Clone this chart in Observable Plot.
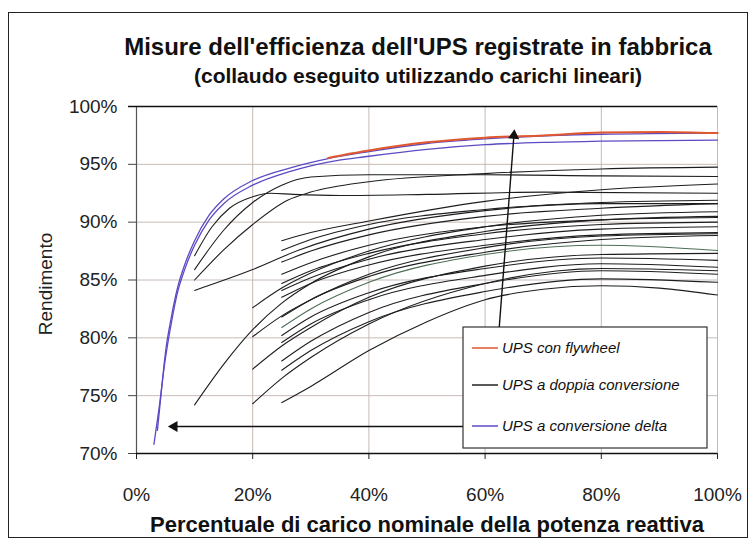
<!DOCTYPE html>
<html>
<head>
<meta charset="utf-8">
<script src="https://cdn.jsdelivr.net/npm/d3@7"></script>
<script src="https://cdn.jsdelivr.net/npm/@observablehq/plot@0.6"></script>
<style>
  body { margin: 0; background: #fff; font-family: "Liberation Sans", Arial, sans-serif; }
  #wrap { position: relative; width: 755px; height: 544px; overflow: hidden; background: #fff; }
  #frame { position: absolute; left: 8px; top: 12px; width: 740px; height: 526px; border: 1.5px solid #222; box-sizing: border-box; pointer-events: none; z-index: 5; }
  .t1 { position: absolute; left: 80px; width: 676px; top: 33px; text-align: center; font-size: 24px; font-weight: bold; line-height: 28px; color: #111; }
  .t2 { position: absolute; left: 80px; width: 676px; top: 64px; text-align: center; font-size: 21px; font-weight: bold; line-height: 24px; color: #111; }
  #chart { position: absolute; left: 0; top: 90px; }
</style>
</head>
<body>
<div id="wrap">
  <div id="frame"></div>
  <div class="t1">Misure dell'efficienza dell'UPS registrate in fabbrica</div>
  <div class="t2">(collaudo eseguito utilizzando carichi lineari)</div>
  <div id="chart"></div>
</div>
<script>
// ---- data (x = % carico, y = % rendimento) ----
const xTicks = [0, 20, 40, 60, 80, 100];
const yTicks = [70, 75, 80, 85, 90, 95, 100];

const flywheel = [[33,95.55],[36,95.85],[40,96.2],[50,96.9],[60,97.3],[70,97.5],[80,97.75],[90,97.8],[100,97.7]];

const deltaA = [[3.6,72.0],[4.2,75.0],[5,78.8],[6,81.8],[7,84.2],[8.5,86.6],[10,88.4],[12.5,90.6],[15,92.0],[20,93.6],[26.5,94.7],[33,95.5],[40,96.1],[50,96.8],[60,97.2],[80,97.6],[100,97.7]];
const deltaB = [[3.0,70.8],[3.8,73.6],[5,78.3],[6,81.3],[7,83.8],[8.5,86.2],[10,88.0],[12.5,90.2],[15,91.6],[20,93.2],[26.5,94.4],[33,95.2],[40,95.7],[50,96.3],[60,96.7],[70,96.9],[80,97.0],[100,97.1]];

// doppia conversione: curves starting at 10% load
const curves10 = [
  [[10,87.1],[13,89.6],[16,91.2],[20,92.2],[23,92.5],[27,92.4],[35,92.3],[50,92.4],[70,92.6],[100,92.5]],
  [[10,85.9],[15,89.3],[20,91.7],[25,93.2],[30,93.9],[40,94.1],[60,94.1],[80,94.0],[100,93.95]],
  [[10,85.0],[15,87.6],[20,89.8],[26,91.9],[30,92.6],[40,93.5],[60,94.2],[80,94.6],[100,94.76]],
  [[10,84.1],[20,85.9],[28,87.6],[40,89.4],[60,91.0],[80,91.6],[100,91.6]],
  [[10,74.2],[15,77.7],[20,80.7],[25,83.0],[30,84.7],[40,87.0],[60,89.2],[80,90.2],[100,90.5]]
];

// curves starting at 20% load
const xs20 = [20, 25, 30, 40, 60, 80, 100];
const curves20 = [
  [82.6, 84.3, 85.6, 87.5, 89.6, 90.6, 90.9],
  [80.1, 81.9, 83.3, 85.5, 87.8, 88.8, 89.0],
  [77.3, 79.3, 80.9, 83.5, 86.2, 87.2, 87.3],
  [74.3, 76.5, 78.3, 81.2, 84.7, 86.0, 85.8]
];

// curves starting at 25% load
const xs25 = [25, 30, 40, 60, 80, 100];
const curves25 = [
  [88.4, 89.1, 90.1, 91.8, 92.8, 93.3],
  [87.55, 88.5, 89.8, 91.1, 91.7, 91.9],
  [86.55, 87.5, 88.9, 90.5, 91.2, 91.6],
  [85.5, 86.5, 88.0, 89.6, 90.2, 90.4],
  [84.7, 85.8, 87.3, 89.0, 89.8, 90.0],
  [84.1, 85.2, 86.8, 88.5, 89.4, 89.6],
  [83.5, 84.7, 86.3, 88.0, 88.9, 89.1],
  [81.8, 83.3, 85.3, 87.4, 88.5, 88.85],
  [80.2, 81.8, 83.9, 86.0, 86.9, 86.7],
  [79.6, 81.2, 83.3, 85.4, 86.4, 86.1],
  [78.0, 79.7, 82.2, 84.7, 85.8, 85.5],
  [77.2, 78.9, 81.4, 84.0, 85.1, 84.8]
];
const curveVerde = [80.9, 82.5, 84.8, 87.2, 88.0, 87.55];
const lowest = [[25,74.4],[30,75.8],[40,78.9],[50,81.4],[60,83.3],[70,84.2],[80,84.5],[90,84.3],[100,83.7]];

const legendItems = [
  {label: "UPS con flywheel", color: "#e2582e"},
  {label: "UPS a doppia conversione", color: "#222"},
  {label: "UPS a conversione delta", color: "#5b4bc4"}
];
// annotation arrows (from legend swatch to curves), in data units
const annotations = [
  {x1: 57.8, y1: 72.34, x2: 6.5, y2: 72.34, rot: -90},
  {x1: 62.3, y1: 80.03, x2: 64.96, y2: 97.49, rot: 4.4}
];

// ---- build rows ----
const toRows = (pts, id) => pts.map(([x, y]) => ({x, y, id}));
let black = [];
curves10.forEach((c, i) => black.push(...toRows(c, "a" + i)));
curves20.forEach((c, i) => black.push(...toRows(xs20.map((x, j) => [x, c[j]]), "b" + i)));
curves25.forEach((c, i) => black.push(...toRows(xs25.map((x, j) => [x, c[j]]), "c" + i)));
black.push(...toRows(lowest, "low"));
const green = toRows(xs25.map((x, j) => [x, curveVerde[j]]), "g");
const purple = [...toRows(deltaA, "dA"), ...toRows(deltaB, "dB")];
const red = toRows(flywheel, "f");

const gridColor = "#c6bbb6";

const chart = Plot.plot({
  width: 755,
  height: 454,
  marginTop: 16,
  marginBottom: 91,
  marginLeft: 136,
  marginRight: 38,
  style: {fontFamily: "'Liberation Sans', Arial, sans-serif", fontSize: "19px", color: "#222", background: "transparent", overflow: "visible"},
  x: {domain: [0, 100]},
  y: {domain: [70, 100]},
  marks: [
    Plot.gridX(xTicks, {stroke: gridColor, strokeOpacity: 1}),
    Plot.gridY(yTicks, {stroke: gridColor, strokeOpacity: 1}),
    Plot.axisX({ticks: xTicks, tickSize: 6, tickPadding: 28, tickFormat: d => d + "%", label: null, stroke: "#222"}),
    Plot.axisY({ticks: yTicks, tickSize: 8, tickPadding: 11, tickFormat: d => d + "%", label: null, stroke: "#444"}),
    Plot.ruleX([0], {stroke: "#555", strokeWidth: 1.2}),
    Plot.ruleY([70], {stroke: "#111", strokeWidth: 1.3}),
    Plot.ruleY([100], {stroke: "#111", strokeWidth: 1.3, insetLeft: -8}),
    Plot.line(black, {x: "x", y: "y", z: "id", stroke: "#1e1e1e", strokeWidth: 1.1, curve: "monotone-x"}),
    Plot.line(green, {x: "x", y: "y", z: "id", stroke: "#4d6e56", strokeWidth: 1.1, curve: "monotone-x"}),
    Plot.line(purple, {x: "x", y: "y", z: "id", stroke: "#5b4bc4", strokeWidth: 1.3, curve: "monotone-x"}),
    Plot.line(red, {x: "x", y: "y", z: "id", stroke: "#e2582e", strokeWidth: 2, curve: "monotone-x"}),
    Plot.link(annotations, {x1: "x1", y1: "y1", x2: "x2", y2: "y2", stroke: "#111", strokeWidth: 1.4, ariaLabel: "arrows"}),
    Plot.dot(annotations, {x: "x2", y: "y2", symbol: "triangle2", r: 5.3, fill: "#111", stroke: "none", rotate: "rot"}),
    Plot.text(["Percentuale di carico nominale della potenza reattiva"], {frameAnchor: "bottom", dy: 71, lineAnchor: "middle", textAnchor: "middle", fontWeight: "bold", fontSize: 22, fill: "#111"}),
    Plot.text(["Rendimento"], {frameAnchor: "left", dx: -91, dy: 4, rotate: -90, textAnchor: "middle", lineAnchor: "middle", fontSize: 19, fill: "#222"})
  ]
});

document.getElementById("chart").appendChild(chart);

// legend drawn into the svg, beneath the annotation arrows
const svg = d3.select(chart);
const lg = svg.insert("g", '[aria-label="arrows"]');
const box = {x: 463, y: 237, w: 244, h: 121};
lg.append("rect").attr("x", box.x).attr("y", box.y).attr("width", box.w).attr("height", box.h)
  .attr("fill", "#fff").attr("stroke", "#333").attr("stroke-width", 1.2);
const rowY = [258, 295, 336];
legendItems.forEach((d, i) => {
  lg.append("line").attr("x1", box.x + 9).attr("x2", box.x + 35).attr("y1", rowY[i]).attr("y2", rowY[i])
    .attr("stroke", d.color).attr("stroke-width", 1.5);
  lg.append("text").attr("x", box.x + 39).attr("y", rowY[i] + 5).attr("text-anchor", "start")
    .attr("font-style", "italic").attr("font-size", 15).attr("fill", "#111").text(d.label);
});
</script>
</body>
</html>
